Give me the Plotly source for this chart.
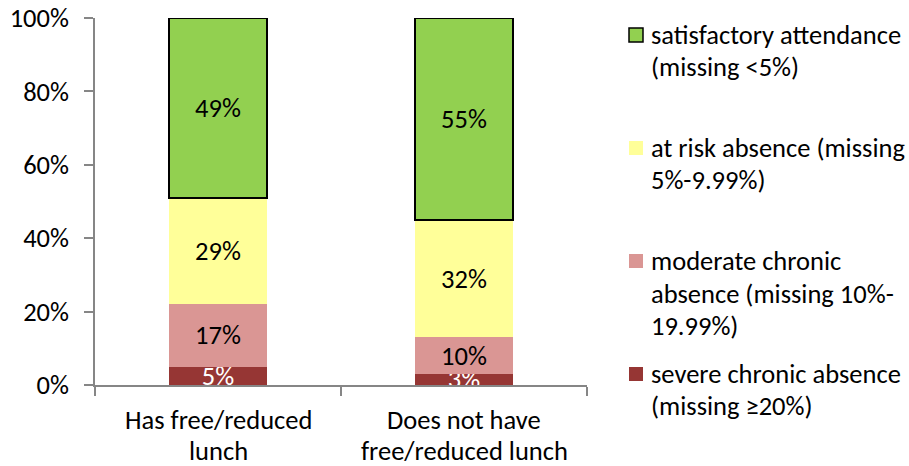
import plotly.graph_objects as go

# Attendance categories by lunch status
group_keys = ["Has free/reduced lunch", "Does not have free/reduced lunch"]
group_lines = [["Has free/reduced", "lunch"], ["Does not have", "free/reduced lunch"]]

severe = [5, 3]
moderate = [17, 10]
at_risk = [29, 32]
satisfactory = [49, 55]

series_names = [
    ["severe chronic absence", "(missing \u226520%)"],
    ["moderate chronic", "absence (missing 10%-", "19.99%)"],
    ["at risk absence (missing", "5%-9.99%)"],
    ["satisfactory attendance", "(missing <5%)"],
]
series_values = [severe, moderate, at_risk, satisfactory]
colors = ["#963634", "#DA9694", "#FFFF99", "#92D050"]
text_colors = ["white", "black", "black", "black"]
y_ticks = [0, 0.2, 0.4, 0.6, 0.8, 1.0]

FONT = "Carlito, Lato, 'Liberation Sans', sans-serif"
FS = 26.5
W, H = 909, 466
L, R, T, B = 95, 322, 18, 81

fig = go.Figure()
for vals, col, tcol, name in zip(series_values, colors, text_colors, series_names):
    is_green = col == "#92D050"
    fig.add_trace(go.Bar(
        x=group_keys,
        y=[v / 100 for v in vals],
        name=" ".join(name),
        marker=dict(color=col,
                    line=dict(color="black", width=1.5 if is_green else 0)),
        text=[f"{v}%" for v in vals],
        textposition="inside",
        insidetextanchor="middle",
        textangle=0,
        constraintext="none",
        textfont=dict(family=FONT, size=FS, color=tcol),
        cliponaxis=True,
        showlegend=False,
    ))

fig.update_layout(
    width=W, height=H,
    margin=dict(l=L, r=R, t=T, b=B, autoexpand=False),
    barmode="stack",
    bargap=0.6,
    plot_bgcolor="white",
    paper_bgcolor="white",
    font=dict(family=FONT, size=FS, color="black"),
    showlegend=False,
)
fig.update_yaxes(
    range=[0, 1], tickvals=y_ticks, tickformat=".0%",
    showgrid=False, zeroline=False, automargin=False,
    showline=True, linecolor="#868686", linewidth=1.5,
    ticks="outside", ticklen=9, tickcolor="#868686", tickwidth=1.5,
    ticklabelstandoff=10,
    tickfont=dict(family=FONT, size=FS),
)
fig.update_xaxes(
    type="category", range=[-0.5, 1.5],
    tickvals=group_keys, showticklabels=False,
    tickson="boundaries", automargin=False,
    showline=True, linecolor="#868686", linewidth=1.5,
    ticks="outside", ticklen=9, tickcolor="#868686", tickwidth=1.5,
    showgrid=False,
)

pw = W - L - R
ph = H - T - B


def px_x(x):
    return (x - L) / pw


def px_y(y):
    return 1 - (y - T) / ph


# Category labels, two lines each, below the axis
for key, lines in zip(group_keys, group_lines):
    for i, line in enumerate(lines):
        fig.add_annotation(
            xref="x", yref="paper", x=key, y=px_y(420 + i * 31),
            xanchor="center", yanchor="middle",
            text=line, showarrow=False,
            font=dict(family=FONT, size=FS, color="black"),
        )

# Hand-built legend on the right side
legend_tops = [374, 261, 148, 35]
line_step = 32.5
for name, col, y0 in zip(series_names, colors, legend_tops):
    is_green = col == "#92D050"
    fig.add_shape(
        type="rect", xref="paper", yref="paper",
        x0=px_x(629), x1=px_x(643), y0=px_y(y0 - 7), y1=px_y(y0 + 7),
        fillcolor=col,
        line=dict(color="black" if is_green else col, width=1.5 if is_green else 0),
    )
    for i, line in enumerate(name):
        fig.add_annotation(
            xref="paper", yref="paper",
            x=px_x(649), y=px_y(y0 + i * line_step),
            xanchor="left", yanchor="middle",
            text=line, showarrow=False,
            font=dict(family=FONT, size=FS, color="black"),
        )

fig.write_html("out.html")
